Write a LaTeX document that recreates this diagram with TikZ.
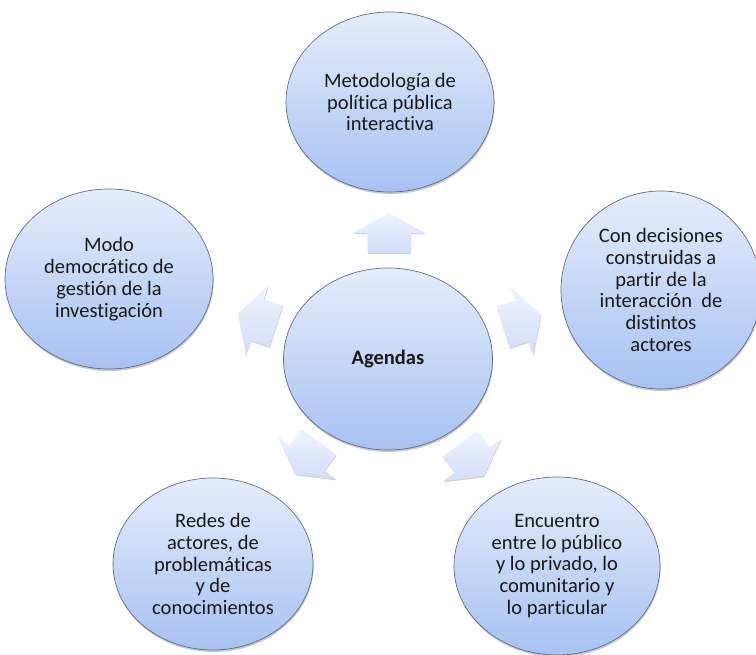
\documentclass[tikz,border=0pt]{standalone}
\usepackage{fontspec}
\setmainfont{Carlito}[Ligatures=NoCommon]
\usetikzlibrary{shapes.geometric,shadows}
\definecolor{ctop}{RGB}{229,237,251}
\definecolor{cbot}{RGB}{167,193,242}
\definecolor{cedge}{RGB}{95,108,135}
\definecolor{atop}{RGB}{238,243,253}
\definecolor{abot}{RGB}{210,222,248}
\definecolor{txt}{RGB}{25,25,25}
\begin{document}
\begin{tikzpicture}[x=1pt,y=-1pt,
  bubble/.style={ellipse, draw=cedge, line width=0.7pt, top color=ctop, bottom color=cbot,
    inner sep=0pt, align=center, text=txt, font=\fontsize{20.5}{21.8}\selectfont,
    drop shadow={shadow xshift=0.6pt, shadow yshift=-2pt, opacity=0.3, fill=black!70}},
  blockarrow/.style={top color=atop, bottom color=abot, draw=none,
    drop shadow={shadow xshift=0.5pt, shadow yshift=-1.2pt, opacity=0.18, fill=black}}
]
\useasboundingbox (0,0) rectangle (756,655);

% arrows
\foreach \px/\py/\ang [count=\i] in {389/233/0, 257/320/72, 307/458/144, 472/460/216, 522/321/288}{
  \begin{scope}[shift={(\px,\py)}, rotate=\ang]
    \path[blockarrow] (0,-20) -- (36,0) -- (21.5,0) -- (21.5,20) -- (-21.5,20) -- (-21.5,0) -- (-36,0) -- cycle;
  \end{scope}
}

\node[bubble, minimum width=208pt, minimum height=180pt] (top) at (390,102) {Metodología de\\política pública\\interactiva};
\node[bubble, minimum width=208pt, minimum height=180pt] (left) at (109,279) {Modo\\democrático de\\gestión de la\\investigación};
\node[bubble, minimum width=200pt, minimum height=198pt] (right) at (661,290) {Con decisiones\\construidas a\\partir de la\\interacción~ de\\distintos\\actores};
\node[bubble, minimum width=200pt, minimum height=172pt] (bl) at (213,564) {Redes de\\actores, de\\problemáticas\\y de\\conocimientos};
\node[bubble, minimum width=206pt, minimum height=178pt] (br) at (557,566) {Encuentro\\entre lo público\\y lo privado, lo\\comunitario y\\lo particular};
\node[bubble, minimum width=209pt, minimum height=182pt, font=\fontsize{20.5}{21.8}\selectfont\bfseries] (center) at (388,359) {Agendas};
\end{tikzpicture}
\end{document}
